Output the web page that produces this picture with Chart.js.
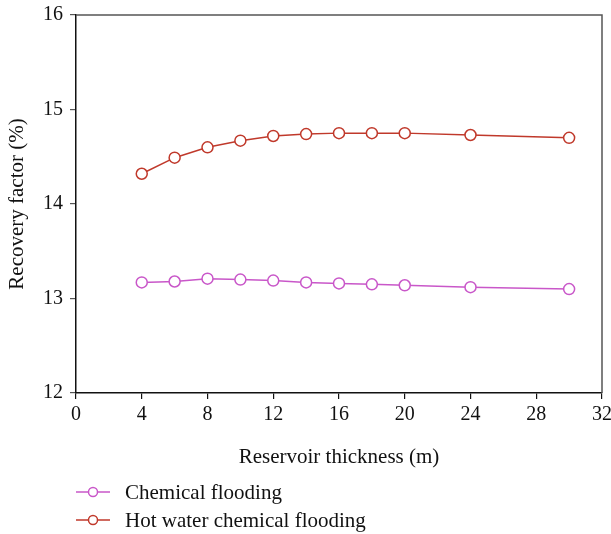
<!DOCTYPE html>
<html>
<head>
<meta charset="utf-8">
<script src="https://cdn.jsdelivr.net/npm/chart.js@4"></script>
<style>
  html, body { margin: 0; padding: 0; background: #fff; }
  canvas { display: block; }
</style>
</head>
<body>
<canvas id="chart" width="611" height="534"></canvas>
<script>
// reservoir thickness (m)
const thickness = [4, 6, 8, 10, 12, 14, 16, 18, 20, 24, 30];
// recovery factor (%)
const chemical = [13.17, 13.18, 13.21, 13.20, 13.19, 13.17, 13.16, 13.15, 13.14, 13.12, 13.10];
const hotWater = [14.32, 14.49, 14.60, 14.67, 14.72, 14.74, 14.75, 14.75, 14.75, 14.73, 14.70];
const xTicks = [0, 4, 8, 12, 16, 20, 24, 28, 32];
const yTicks = [12, 13, 14, 15, 16];

const serif = "'Liberation Serif', 'DejaVu Serif', serif";
const colors = { chemical: '#c957c9', hot: '#c0392b' };

const toPoints = (ys) => thickness.map((x, i) => ({ x: x, y: ys[i] }));

// frame on top and right + legend under the axis
const framePlugin = {
  id: 'frame',
  afterDraw(chart) {
    const ctx = chart.ctx;
    const a = chart.chartArea;
    ctx.save();
    ctx.strokeStyle = '#555';
    ctx.lineWidth = 1.5;
    ctx.beginPath();
    ctx.moveTo(a.left, a.top);
    ctx.lineTo(a.right, a.top);
    ctx.lineTo(a.right, a.bottom);
    ctx.stroke();

    // legend
    let y = 492;
    chart.data.datasets.forEach(ds => {
      ctx.strokeStyle = ds.borderColor;
      ctx.lineWidth = 1.5;
      ctx.beginPath();
      ctx.moveTo(76, y);
      ctx.lineTo(110, y);
      ctx.stroke();
      ctx.beginPath();
      ctx.arc(93, y, 4.5, 0, Math.PI * 2);
      ctx.fillStyle = '#fff';
      ctx.fill();
      ctx.stroke();
      ctx.fillStyle = '#111';
      ctx.font = '21px ' + serif;
      ctx.textBaseline = 'middle';
      ctx.textAlign = 'left';
      ctx.fillText(ds.label, 125, y + 1);
      y += 28;
    });
    ctx.restore();
  }
};

const ctx = document.getElementById('chart').getContext('2d');
const chart = new Chart(ctx, {
  type: 'line',
  data: {
    datasets: [
      {
        label: 'Chemical flooding',
        data: toPoints(chemical),
        borderColor: colors.chemical,
        backgroundColor: '#fff',
        pointBackgroundColor: '#fff',
        borderWidth: 1.5,
        pointRadius: 5.5,
        pointBorderWidth: 1.5
      },
      {
        label: 'Hot water chemical flooding',
        data: toPoints(hotWater),
        borderColor: colors.hot,
        backgroundColor: '#fff',
        pointBackgroundColor: '#fff',
        borderWidth: 1.5,
        pointRadius: 5.5,
        pointBorderWidth: 1.5
      }
    ]
  },
  options: {
    responsive: false,
    animation: false,
    layout: { padding: { top: 15, right: 0, bottom: 64, left: 0 } },
    plugins: {
      legend: { display: false },
      tooltip: { enabled: false }
    },
    scales: {
      x: {
        type: 'linear',
        min: 0,
        max: 32,
        afterBuildTicks: (scale) => { scale.ticks = xTicks.map(v => ({ value: v })); },
        afterFit: (scale) => { scale.height = 77; scale.paddingRight = 9; },
        border: { color: '#111', width: 1.5 },
        grid: { drawOnChartArea: false, tickLength: 6, color: '#111', lineWidth: 1.2 },
        ticks: { color: '#111', padding: 4, font: { family: serif, size: 20 } },
        title: {
          display: true,
          text: 'Reservoir thickness (m)',
          color: '#111',
          font: { family: serif, size: 21 },
          padding: { top: 10, bottom: 0 }
        }
      },
      y: {
        min: 12,
        max: 16,
        afterBuildTicks: (scale) => { scale.ticks = yTicks.map(v => ({ value: v })); },
        afterFit: (scale) => { scale.width = 76; scale.paddingTop = 0; scale.paddingBottom = 0; },
        border: { color: '#111', width: 1.5 },
        grid: { drawOnChartArea: false, tickLength: 6, color: '#555', lineWidth: 1.2 },
        ticks: { color: '#111', padding: 7, font: { family: serif, size: 20 } },
        title: {
          display: true,
          text: 'Recovery factor (%)',
          color: '#111',
          font: { family: serif, size: 21 },
          padding: { top: 5, bottom: 0 }
        }
      }
    }
  },
  plugins: [framePlugin]
});
</script>
</body>
</html>
